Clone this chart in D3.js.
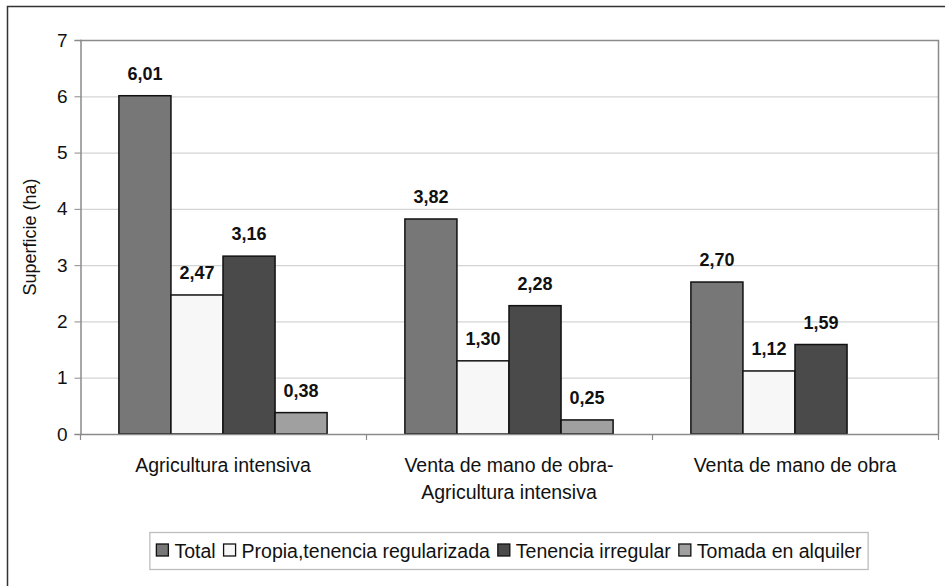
<!DOCTYPE html>
<html>
<head>
<meta charset="utf-8">
<script src="https://cdn.jsdelivr.net/npm/d3@7"></script>
<style>
  html, body { margin: 0; padding: 0; background: #fff; }
  svg { display: block; }
  svg text { font-family: "Liberation Sans", Arial, sans-serif; }
</style>
</head>
<body>
<svg id="chart" width="945" height="586"></svg>
<script>
const categories = [
  ["Agricultura intensiva"],
  ["Venta de mano de obra-", "Agricultura intensiva"],
  ["Venta de mano de obra"]
];
const seriesNames = ["Total", "Propia,tenencia regularizada", "Tenencia irregular", "Tomada en alquiler"];
const total     = [6.01, 3.82, 2.70];
const propia    = [2.47, 1.30, 1.12];
const irregular = [3.16, 2.28, 1.59];
const alquiler  = [0.38, 0.25, null];
const yTicks = [0, 1, 2, 3, 4, 5, 6, 7];
const seriesColors = ["#777777", "#f7f7f7", "#4a4a4a", "#a0a0a0"];
const yTitle = "Superficie (ha)";

const seriesValues = [total, propia, irregular, alquiler];

const svg = d3.select("#chart");
const W = 945, H = 586;
const plot = { left: 80, right: 938, top: 40, bottom: 434 };

// outer frame
svg.append("path")
  .attr("d", `M7.5,${H} L7.5,6.5 L${W},6.5`)
  .attr("fill", "none").attr("stroke", "#333").attr("stroke-width", 1.5);

const x0 = d3.scaleBand().domain(d3.range(categories.length))
  .range([plot.left, plot.right]).paddingInner(0).paddingOuter(0);
const bw = x0.bandwidth();
const x1 = d3.scaleBand().domain(d3.range(seriesNames.length))
  .range([bw * 0.136, bw * 0.864]).paddingInner(0).paddingOuter(0);
const y = d3.scaleLinear().domain([0, 7]).range([plot.bottom, plot.top]);

// gridlines
svg.append("g").selectAll("line").data(yTicks.filter(t => t > 0 && t < 7)).join("line")
  .attr("x1", plot.left).attr("x2", plot.right)
  .attr("y1", d => y(d) + 0.5).attr("y2", d => y(d) + 0.5)
  .attr("stroke", "#d4d4d4").attr("stroke-width", 1.2);

// plot frame top and right
svg.append("path")
  .attr("d", `M${plot.left},${plot.top + 0.5} L${plot.right + 0.5},${plot.top + 0.5} L${plot.right + 0.5},${plot.bottom}`)
  .attr("fill", "none").attr("stroke", "#8a8a8a").attr("stroke-width", 1.5);

// bars
const gGroups = svg.append("g").selectAll("g").data(categories).join("g")
  .attr("transform", (d, i) => `translate(${x0(i)},0)`);

gGroups.each(function(cat, ci) {
  const g = d3.select(this);
  seriesValues.forEach((vals, si) => {
    const v = vals[ci];
    if (v === null || v === undefined) return;
    g.append("rect")
      .attr("x", x1(si)).attr("width", x1.bandwidth())
      .attr("y", y(v)).attr("height", y(0) - y(v))
      .attr("fill", seriesColors[si]).attr("stroke", "#111").attr("stroke-width", 1.5);
    g.append("text")
      .attr("x", x1(si) + x1.bandwidth() / 2)
      .attr("y", y(v) - 16)
      .attr("text-anchor", "middle")
      .attr("font-size", 18).attr("font-weight", "bold").attr("fill", "#111")
      .text(d3.format(".2f")(v).replace(".", ","));
  });
});

// y axis
const yAxis = d3.axisLeft(y).tickValues(yTicks).tickSize(6).tickPadding(7).tickFormat(d3.format("d"));
const gy = svg.append("g").attr("transform", `translate(${plot.left + 0.5},0)`).call(yAxis);
gy.attr("font-family", null);
gy.select(".domain").attr("stroke", "#8a8a8a").attr("stroke-width", 1.5);
gy.selectAll(".tick line").attr("stroke", "#8a8a8a");
gy.selectAll(".tick text").attr("font-size", 19).attr("fill", "#111");

// x axis baseline and ticks at category boundaries
svg.append("line").attr("x1", plot.left).attr("x2", plot.right + 1)
  .attr("y1", plot.bottom + 0.5).attr("y2", plot.bottom + 0.5)
  .attr("stroke", "#8a8a8a").attr("stroke-width", 1.5);
const bounds = d3.range(categories.length + 1).map(i => i < categories.length ? x0(i) : plot.right);
svg.append("g").selectAll("line").data(bounds).join("line")
  .attr("x1", d => d + 0.5).attr("x2", d => d + 0.5)
  .attr("y1", plot.bottom).attr("y2", plot.bottom + 6)
  .attr("stroke", "#8a8a8a").attr("stroke-width", 1.2);

// category labels
const catText = svg.append("g").selectAll("text").data(categories).join("text")
  .attr("x", (d, i) => x0(i) + x0.bandwidth() / 2)
  .attr("y", 472)
  .attr("text-anchor", "middle").attr("font-size", 19.5).attr("fill", "#111");
catText.each(function(lines) {
  const t = d3.select(this);
  lines.forEach((ln, li) => {
    t.append("tspan").attr("x", t.attr("x")).attr("dy", li === 0 ? 0 : 27).text(ln);
  });
});

// y title
svg.append("text")
  .attr("transform", `translate(36,${(plot.top + plot.bottom) / 2}) rotate(-90)`)
  .attr("text-anchor", "middle").attr("font-size", 18).attr("fill", "#111")
  .text(yTitle);

// legend
const legend = svg.append("g");
const legY = 551;
const items = legend.selectAll("g").data(seriesNames).join("g");
let cursor = 0;
const sq = 12, gapSq = 6, gapItem = 8;
items.each(function(name, i) {
  const g = d3.select(this);
  g.append("rect").attr("x", cursor).attr("y", legY - sq / 2 - 1).attr("width", sq).attr("height", sq)
    .attr("fill", seriesColors[i]).attr("stroke", "#111").attr("stroke-width", 1.3);
  const t = g.append("text").attr("x", cursor + sq + gapSq).attr("y", legY + 7)
    .attr("font-size", 19.5).attr("fill", "#111").text(name);
  cursor += sq + gapSq + t.node().getComputedTextLength() + gapItem;
});
const legW = cursor - gapItem;
const legX = (plot.left + plot.right) / 2 - legW / 2;
legend.attr("transform", `translate(${legX},0)`);
legend.insert("rect", ":first-child")
  .attr("x", -6.5).attr("y", 532.5).attr("width", legW + 13).attr("height", 37)
  .attr("fill", "#fff").attr("stroke", "#bdbdbd").attr("stroke-width", 1.3);
</script>
</body>
</html>
